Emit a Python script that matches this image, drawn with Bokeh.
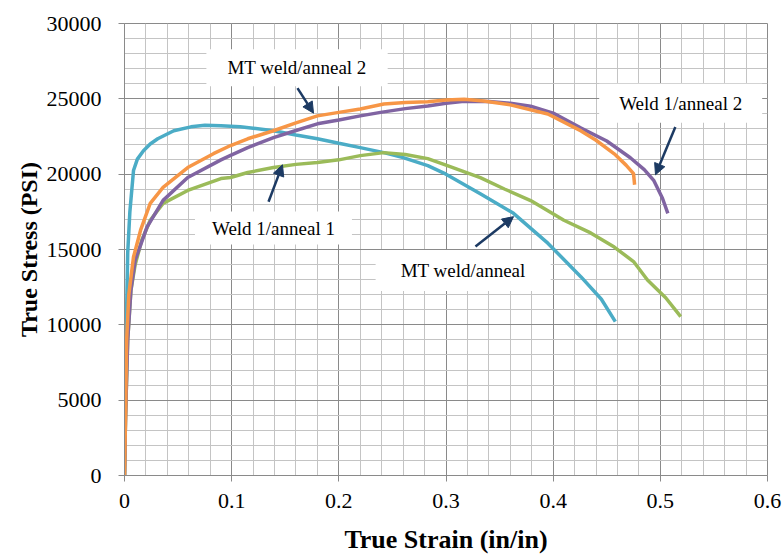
from bokeh.plotting import figure
from bokeh.models import Label, Arrow, NormalHead, FixedTicker, Range1d
from bokeh.embed import file_html
from bokeh.resources import INLINE

# ---------------- data ----------------
mt_x = [0, 0.001, 0.002, 0.003, 0.005, 0.0084, 0.012, 0.0177, 0.024, 0.031, 0.046, 0.062,
        0.075, 0.09, 0.108, 0.12, 0.139, 0.16, 0.18, 0.2, 0.22, 0.242, 0.26, 0.283, 0.3,
        0.332, 0.363, 0.395, 0.426, 0.445, 0.458]
mt_y = [0, 5000, 11000, 14770, 17500, 20240, 21000, 21560, 22000, 22350, 22880, 23140,
        23250, 23210, 23140, 23050, 22880, 22600, 22350, 22050, 21760, 21430, 21100, 20570, 20000,
        18700, 17400, 15420, 13180, 11700, 10210]

mt2_x = [0, 0.001, 0.002, 0.004, 0.0084, 0.015, 0.024, 0.036, 0.059, 0.083, 0.099, 0.115,
         0.139, 0.16, 0.18, 0.2, 0.22, 0.242, 0.262, 0.283, 0.3, 0.317, 0.335, 0.36, 0.395,
         0.426, 0.44, 0.457, 0.468, 0.475, 0.476]
mt2_y = [0, 4000, 9000, 12000, 14500, 16280, 18060, 19120, 20440, 21360, 21900, 22350,
         22880, 23400, 23870, 24100, 24330, 24660, 24750, 24800, 24920, 24970, 24850, 24600, 23990,
         22870, 22250, 21350, 20600, 20030, 19300]

w2_x = [0, 0.001, 0.003, 0.006, 0.010, 0.021, 0.036, 0.059, 0.09, 0.099, 0.115, 0.139,
        0.16, 0.18, 0.2, 0.22, 0.239, 0.262, 0.283, 0.3, 0.317, 0.34, 0.36, 0.379, 0.4,
        0.426, 0.45, 0.472, 0.485, 0.494, 0.502, 0.507]
w2_y = [0, 4000, 9000, 12300, 14300, 16480, 18260, 19780, 20950, 21250, 21760, 22420,
        22900, 23340, 23600, 23870, 24100, 24350, 24530, 24700, 24840, 24820, 24700, 24510, 24050,
        23060, 22200, 21090, 20300, 19570, 18400, 17400]

w1_x = [0, 0.001, 0.003, 0.006, 0.010, 0.016, 0.024, 0.036, 0.059, 0.09, 0.099, 0.115,
        0.139, 0.16, 0.18, 0.2, 0.22, 0.242, 0.262, 0.283, 0.3, 0.332, 0.355, 0.379, 0.41,
        0.435, 0.457, 0.475, 0.488, 0.505, 0.519]
w1_y = [0, 4000, 9000, 12300, 14000, 15600, 16940, 18060, 18920, 19710, 19780, 20110,
        20440, 20650, 20770, 20950, 21230, 21430, 21300, 21030, 20600, 19770, 19000, 18250, 16940,
        16100, 15160, 14200, 12980, 11800, 10540]

x_ticks = [0, 0.1, 0.2, 0.3, 0.4, 0.5, 0.6]
x_tick_labels = ["0", "0.1", "0.2", "0.3", "0.4", "0.5", "0.6"]
y_ticks = [0, 5000, 10000, 15000, 20000, 25000, 30000]
y_tick_labels = ["0", "5000", "10000", "15000", "20000", "25000", "30000"]
x_minor = [round(i * 0.02, 2) for i in range(31)]
y_minor = [i * 1000 for i in range(31)]

# annotation texts at label centres, and arrows (x0, y0) -> (x1, y1)
label_texts = ["MT weld/anneal 2", "Weld 1/anneal 2", "Weld 1/anneal 1", "MT weld/anneal"]
label_x = [0.161, 0.519, 0.139, 0.316]
label_y = [27060, 24710, 16420, 13610]
arrow_x0 = [0.1614, 0.514, 0.1344, 0.3275]
arrow_y0 = [25710, 23130, 18170, 15200]
arrow_x1 = [0.1764, 0.4955, 0.1474, 0.363]
arrow_y1 = [24050, 19960, 20620, 17180]

# ---------------- figure ----------------
SERIF = "Liberation Serif"
p = figure(width=782, height=556, output_backend="svg", toolbar_location=None,
           x_range=Range1d(0, 0.6), y_range=Range1d(0, 30000),
           min_border_left=124, min_border_right=15, min_border_top=23, min_border_bottom=79)
p.background_fill_color = "white"
p.border_fill_color = "white"
p.outline_line_color = "#8a8a8a"

p.xaxis.ticker = FixedTicker(ticks=x_ticks, minor_ticks=x_minor)
p.yaxis.ticker = FixedTicker(ticks=y_ticks, minor_ticks=y_minor)
p.xaxis.major_label_overrides = {t: l for t, l in zip(x_ticks, x_tick_labels)}
p.yaxis.major_label_overrides = {t: l for t, l in zip(y_ticks, y_tick_labels)}

for ax in (p.xaxis, p.yaxis):
    ax.axis_line_color = "#8a8a8a"
    ax.major_tick_line_color = "#8a8a8a"
    ax.major_tick_out = 6
    ax.major_tick_in = 0
    ax.minor_tick_line_color = None
    ax.major_label_text_font = SERIF
    ax.major_label_text_font_size = "22px"
    ax.major_label_text_color = "black"
    ax.axis_label_text_font = SERIF
    ax.axis_label_text_font_style = "bold"
    ax.axis_label_text_color = "black"

p.xaxis.axis_label = "True Strain (in/in)"
p.yaxis.axis_label = "True Stress (PSI)"
p.xaxis.axis_label_text_font_size = "26px"
p.yaxis.axis_label_text_font_size = "24px"
p.xaxis.major_label_standoff = 12
p.yaxis.major_label_standoff = 17
p.xaxis.axis_label_standoff = 14
p.yaxis.axis_label_standoff = 2

for g in (p.xgrid, p.ygrid):
    g.grid_line_color = "#8a8a8a"
    g.grid_line_width = 1
    g.minor_grid_line_color = "#c4c4c4"
    g.minor_grid_line_width = 1

LW = 3.5
p.line(mt_x, mt_y, line_color="#4BACC6", line_width=LW)
p.line(w1_x, w1_y, line_color="#9BBB59", line_width=LW)
p.line(w2_x, w2_y, line_color="#8064A2", line_width=LW)
p.line(mt2_x, mt2_y, line_color="#F79646", line_width=LW)

pads = [dict(left=21, right=21, top=8, bottom=8),
        dict(left=20, right=20, top=9, bottom=9),
        dict(left=17, right=17, top=6, bottom=6),
        dict(left=25, right=25, top=10, bottom=10)]
for t, lx, ly, pad in zip(label_texts, label_x, label_y, pads):
    p.add_layout(Label(x=lx, y=ly, text=t, text_align="center", text_baseline="middle",
                       text_font=SERIF, text_font_size="19px", text_color="black",
                       background_fill_color="white", padding=pad))

NAVY = "#1c3a63"
for x0, y0, x1, y1 in zip(arrow_x0, arrow_y0, arrow_x1, arrow_y1):
    p.add_layout(Arrow(x_start=x0, y_start=y0, x_end=x1, y_end=y1,
                       line_color=NAVY, line_width=2.5,
                       end=NormalHead(size=11, fill_color=NAVY, line_color=NAVY)))

open("out.html", "w").write(file_html(p, INLINE))
